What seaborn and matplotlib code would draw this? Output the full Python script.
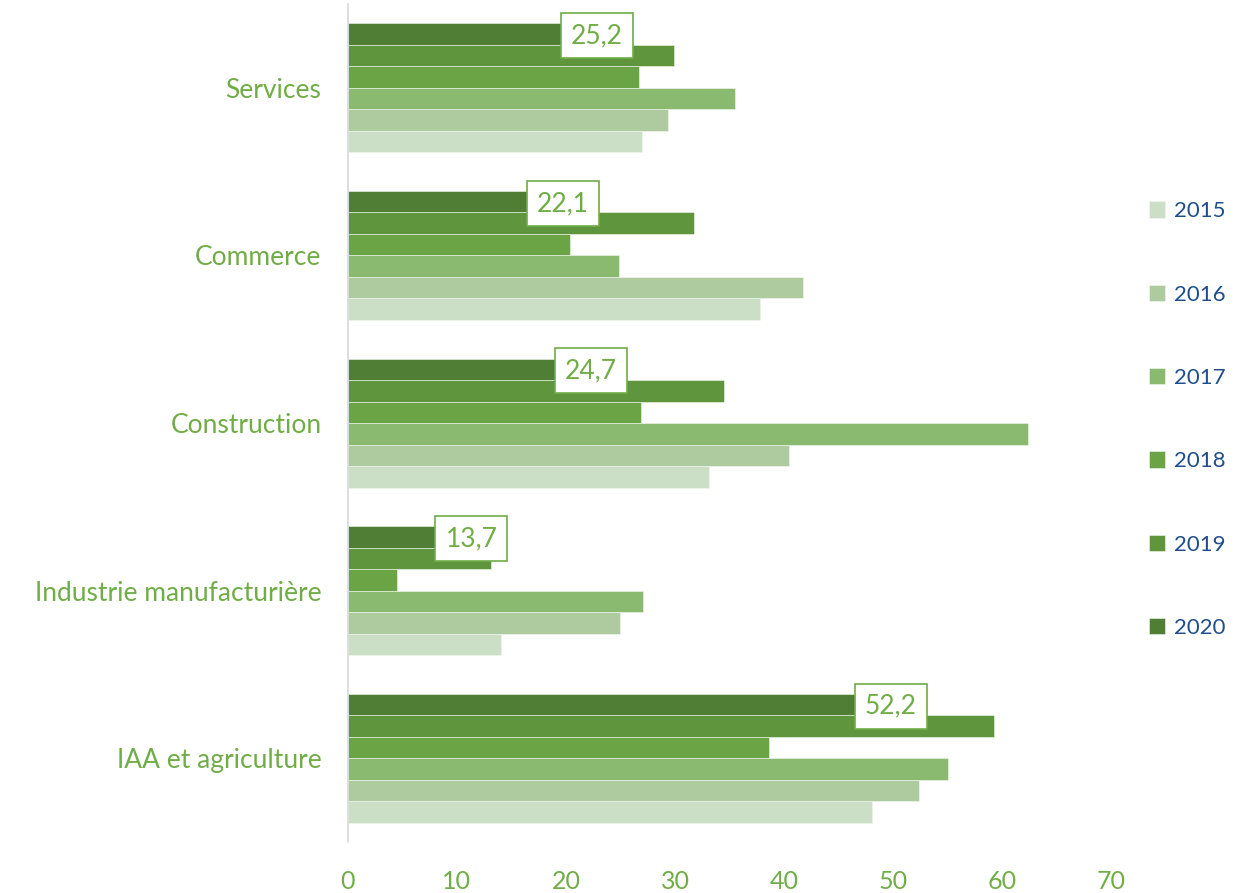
import matplotlib
matplotlib.use("Agg")
import matplotlib.pyplot as plt
import pandas as pd
import seaborn as sns

sectors = ["Services", "Commerce", "Construction", "Industrie manufacturière", "IAA et agriculture"]
years = ["2015", "2016", "2017", "2018", "2019", "2020"]
v2015 = [27.0, 37.8, 33.1, 14.0, 48.1]
v2016 = [29.4, 41.7, 40.5, 25.0, 52.4]
v2017 = [35.5, 24.9, 62.4, 27.1, 55.0]
v2018 = [26.7, 20.4, 26.9, 4.5, 38.6]
v2019 = [29.9, 31.7, 34.5, 13.1, 59.3]
v2020 = [25.2, 22.1, 24.7, 13.7, 52.2]
palette = ["#cbdec6", "#aecb9f", "#8aba6f", "#6aa444", "#5f963d", "#507e34"]

green = "#70ad47"
blue = "#1f4e8c"

rows = []
for year, vals in zip(years, [v2015, v2016, v2017, v2018, v2019, v2020]):
    for s, v in zip(sectors, vals):
        rows.append({"sector": s, "year": year, "value": v})
df = pd.DataFrame(rows)

sns.set_style("white")
plt.rcParams["font.family"] = ["Lato", "DejaVu Sans"]

fig = plt.figure(figsize=(12.47, 8.93), dpi=100)
ax = fig.add_axes([0.279, 0.057, 0.612, 0.9385])

hue_order = years[::-1]
sns.barplot(
    data=df, y="sector", x="value", hue="year", order=sectors,
    hue_order=hue_order, palette=dict(zip(years, palette)), saturation=1,
    orient="h", width=0.77, edgecolor="#f2f7ef", linewidth=0.4, ax=ax,
)

ax.set_xlim(0, 70)
ax.set_xticks(range(0, 71, 10))
ax.set_xlabel("")
ax.set_ylabel("")
for side in ["top", "right", "bottom"]:
    ax.spines[side].set_visible(False)
ax.spines["left"].set_color("#d9d9d9")
ax.spines["left"].set_linewidth(1.2)
ax.tick_params(axis="x", colors=green, labelsize=18, length=0, pad=20)
ax.tick_params(axis="y", colors=green, labelsize=19, length=0, pad=19)

# data labels on the 2020 bars
for bar, v in zip(ax.containers[0], v2020):
    ax.text(
        bar.get_width(), bar.get_y() + bar.get_height() / 2 + 0.01,
        f"{v:.1f}".replace(".", ","), ha="right", va="center",
        color=green, fontsize=19,
        bbox=dict(boxstyle="square,pad=0.38", fc="white", ec=green, lw=1.2),
    )

handles, labels = ax.get_legend_handles_labels()
ax.legend_.remove()
order = [labels.index(y) for y in years]
leg = fig.legend(
    [handles[i] for i in order], years, loc="upper left",
    bbox_to_anchor=(0.905, 0.797), frameon=False, fontsize=16,
    handlelength=0.75, handleheight=0.75, handletextpad=0.4, labelspacing=2.85,
)
for t in leg.get_texts():
    t.set_color(blue)

fig.savefig("out.png", dpi=100)
